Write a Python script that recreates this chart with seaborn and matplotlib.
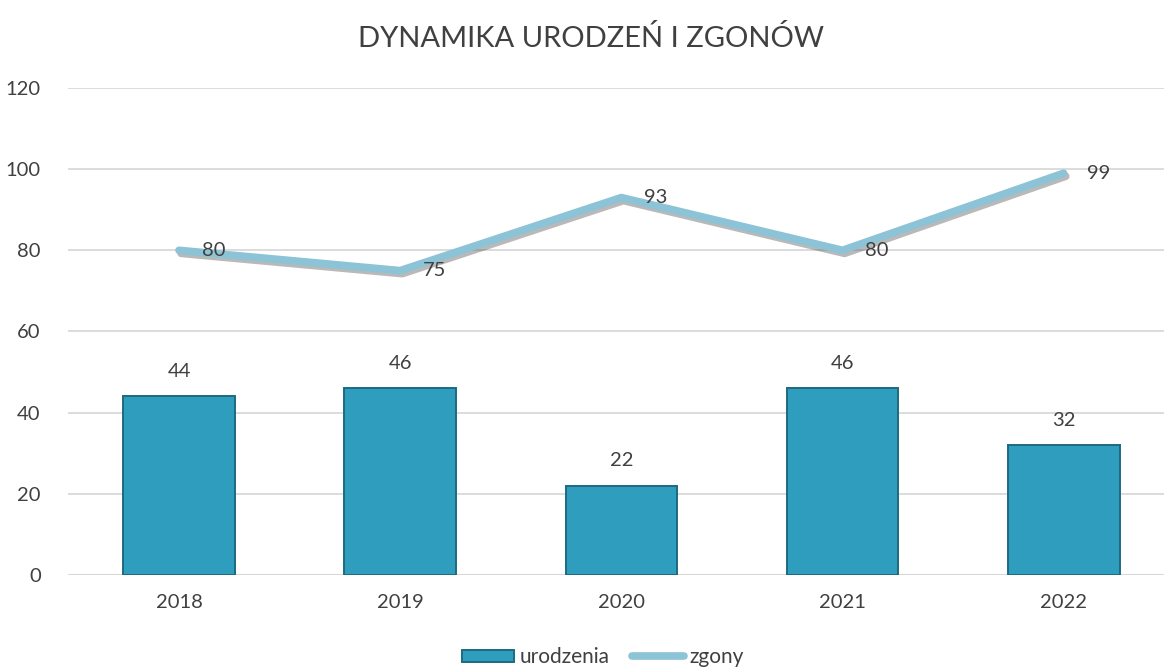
import matplotlib
matplotlib.use("Agg")
import matplotlib.pyplot as plt
import matplotlib.patheffects as pe
from matplotlib.patches import Patch
from matplotlib.lines import Line2D
import seaborn as sns
import pandas as pd

years = ["2018", "2019", "2020", "2021", "2022"]
urodzenia = [44, 46, 22, 46, 32]
zgony = [80, 75, 93, 80, 99]
title = "DYNAMIKA URODZEŃ I ZGONÓW"
yticks = [0, 20, 40, 60, 80, 100, 120]

df = pd.DataFrame({"rok": years, "urodzenia": urodzenia, "zgony": zgony})

sns.set_theme(style="white")
plt.rcParams["font.family"] = ["Lato", "DejaVu Sans"]

fig = plt.figure(figsize=(11.64, 6.70), dpi=100)
ax = fig.add_axes([0.0588, 0.1418, 0.950, 0.7269])

bar_col = "#2E9DBE"
edge_col = "#1D6A80"
line_col = "#8CC3D6"
text_col = "#404040"

sns.barplot(data=df, x="rok", y="urodzenia", order=years, color=bar_col,
            saturation=1, width=0.505, edgecolor=edge_col, linewidth=1.4,
            ax=ax, zorder=3)
sns.lineplot(data=df, x="rok", y="zgony", color=line_col, linewidth=5.5,
             ax=ax, zorder=4, solid_capstyle="round", sort=False,
             path_effects=[pe.SimpleLineShadow(offset=(1.5, -2.2), shadow_color="#505050", alpha=0.4),
                           pe.Normal()])

for i, v in enumerate(urodzenia):
    ax.annotate(str(v), (i, v), xytext=(0, 18), textcoords="offset points",
                ha="center", va="center", fontsize=14.5, color=text_col, zorder=5)
for i, v in enumerate(zgony):
    ax.annotate(str(v), (i, v), xytext=(25, 0), textcoords="offset points",
                ha="center", va="center", fontsize=14.5, color=text_col, zorder=5)

ax.set_ylim(0, 120)
ax.set_yticks(yticks)
ax.set_xlim(-0.5, 4.5)
ax.yaxis.grid(True, color="#D9D9D9", linewidth=1.3, zorder=0)
ax.set_axisbelow(True)
for s in ax.spines.values():
    s.set_visible(False)
ax.axhline(0, color="#D9D9D9", linewidth=1.5, zorder=2)
ax.tick_params(axis="both", length=0, labelsize=14.5, labelcolor=text_col)
ax.tick_params(axis="y", pad=20)
ax.tick_params(axis="x", pad=14)
ax.set_xlabel("")
ax.set_ylabel("")

fig.text(0.508, 0.943, title, ha="center", va="center", fontsize=21, color=text_col)

handles = [Patch(facecolor=bar_col, edgecolor=edge_col, linewidth=1.4),
           Line2D([0], [0], color=line_col, linewidth=5.5, solid_capstyle="round")]
fig.legend(handles, ["urodzenia", "zgony"], loc="center", bbox_to_anchor=(0.518, 0.019),
           ncol=2, frameon=False, fontsize=15, handlelength=2.5, handletextpad=0.25,
           columnspacing=1.1, labelcolor=text_col, handleheight=0.55)

fig.savefig("out.png", dpi=100)
